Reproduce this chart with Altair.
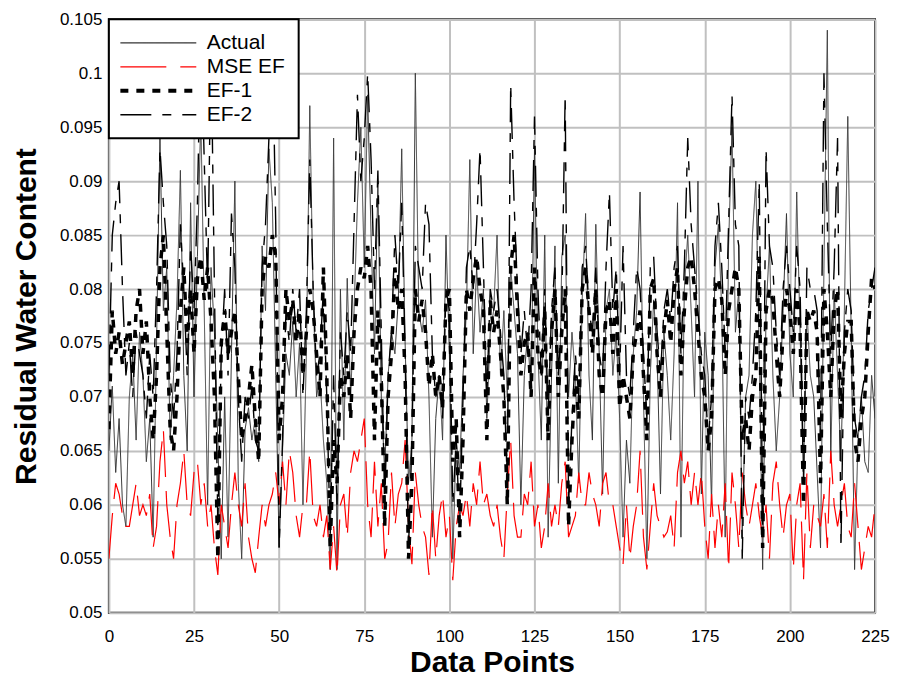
import altair as alt
import pandas as pd

series_names = ["Actual", "MSE EF", "EF-1", "EF-2"]
series_colors = ["#333333", "#ff0000", "#000000", "#000000"]
series_widths = [1.0, 1.2, 3.5, 1.4]
series_dashes = [[1, 0], [46, 14], [8, 8], [31, 11, 9, 11]]
x_ticks = [0, 25, 50, 75, 100, 125, 150, 175, 200, 225]
y_ticks = [0.05, 0.055, 0.06, 0.065, 0.07, 0.075, 0.08, 0.085, 0.09, 0.095, 0.1, 0.105]

actual = [
    0.065, 0.071, 0.063, 0.068, 0.060, 0.058, 0.070, 0.074, 0.066, 0.076,
    0.072, 0.064, 0.068, 0.057, 0.075, 0.094, 0.078, 0.082, 0.066, 0.072,
    0.079, 0.091, 0.072, 0.065, 0.088, 0.070, 0.083, 0.096, 0.078, 0.060,
    0.082, 0.076, 0.066, 0.055, 0.070, 0.057, 0.074, 0.090, 0.062, 0.055,
    0.067, 0.069, 0.066, 0.068, 0.064, 0.084, 0.078, 0.093, 0.088, 0.072,
    0.056, 0.065, 0.074, 0.072, 0.077, 0.070, 0.075, 0.060, 0.074, 0.097,
    0.079, 0.070, 0.072, 0.066, 0.062, 0.054, 0.094, 0.054, 0.080, 0.066,
    0.081, 0.070, 0.078, 0.088, 0.095, 0.082, 0.098, 0.085, 0.074, 0.090,
    0.070, 0.063, 0.072, 0.076, 0.074, 0.079, 0.093, 0.075, 0.062, 0.066,
    0.100, 0.078, 0.076, 0.079, 0.070, 0.057, 0.068, 0.072, 0.066, 0.085,
    0.074, 0.055, 0.066, 0.063, 0.072, 0.078, 0.092, 0.074, 0.082, 0.076,
    0.080, 0.068, 0.076, 0.078, 0.085, 0.072, 0.078, 0.070, 0.082, 0.078,
    0.074, 0.060, 0.072, 0.076, 0.070, 0.093, 0.074, 0.066, 0.085, 0.057,
    0.072, 0.084, 0.062, 0.083, 0.085, 0.070, 0.076, 0.072, 0.062, 0.079,
    0.087, 0.072, 0.066, 0.086, 0.074, 0.061, 0.078, 0.080, 0.072, 0.076,
    0.068, 0.057, 0.066, 0.062, 0.074, 0.078, 0.089, 0.070, 0.055, 0.072,
    0.079, 0.074, 0.061, 0.076, 0.072, 0.066, 0.074, 0.088, 0.057, 0.080,
    0.085, 0.078, 0.070, 0.090, 0.061, 0.076, 0.072, 0.060, 0.082, 0.086,
    0.078, 0.057, 0.084, 0.095, 0.076, 0.080, 0.057, 0.070, 0.072, 0.085,
    0.090, 0.074, 0.054, 0.078, 0.084, 0.072, 0.065, 0.070, 0.078, 0.087,
    0.074, 0.070, 0.089, 0.076, 0.062, 0.078, 0.072, 0.070, 0.063, 0.056,
    0.082, 0.104, 0.064, 0.080, 0.072, 0.064, 0.078, 0.096, 0.076, 0.054,
    0.066, 0.070, 0.064, 0.063, 0.072, 0.068,
]

mse_ef = [
    0.055, 0.059, 0.062, 0.061, 0.059, 0.058, 0.058, 0.060, 0.062, 0.059,
    0.060, 0.059, 0.061, 0.056, 0.058, 0.064, 0.067, 0.060, 0.057, 0.055,
    0.060, 0.062, 0.065, 0.060, 0.059, 0.063, 0.064, 0.060, 0.062, 0.058,
    0.060, 0.056, 0.0535, 0.060, 0.058, 0.056, 0.060, 0.063, 0.060, 0.058,
    0.062, 0.057, 0.055, 0.0537, 0.057, 0.060, 0.058, 0.060, 0.061, 0.063,
    0.060, 0.064, 0.060, 0.065, 0.063, 0.059, 0.057, 0.060, 0.060, 0.065,
    0.059, 0.058, 0.060, 0.057, 0.059, 0.054, 0.058, 0.0535, 0.060, 0.061,
    0.057, 0.063, 0.065, 0.064, 0.066, 0.068, 0.060, 0.057, 0.064, 0.058,
    0.062, 0.055, 0.0565, 0.063, 0.058, 0.061, 0.062, 0.066, 0.058, 0.0545,
    0.063, 0.060, 0.058, 0.057, 0.0535, 0.060, 0.055, 0.059, 0.061, 0.057,
    0.059, 0.053, 0.058, 0.060, 0.059, 0.061, 0.058, 0.062, 0.060, 0.064,
    0.060, 0.061, 0.059, 0.058, 0.060, 0.057, 0.055, 0.061, 0.066, 0.059,
    0.057, 0.057, 0.061, 0.060, 0.064, 0.058, 0.060, 0.056, 0.058, 0.062,
    0.058, 0.060, 0.058, 0.062, 0.064, 0.057, 0.058, 0.059, 0.063, 0.060,
    0.060, 0.063, 0.061, 0.060, 0.058, 0.062, 0.063, 0.060, 0.060, 0.058,
    0.056, 0.0545, 0.060, 0.055, 0.058, 0.060, 0.065, 0.057, 0.054, 0.058,
    0.062, 0.059, 0.058, 0.057, 0.0575, 0.059, 0.056, 0.063, 0.065, 0.062,
    0.064, 0.060, 0.063, 0.060, 0.063, 0.058, 0.055, 0.061, 0.056, 0.060,
    0.057, 0.062, 0.054, 0.063, 0.060, 0.056, 0.063, 0.060, 0.058, 0.060,
    0.062, 0.059, 0.057, 0.060, 0.055, 0.062, 0.064, 0.060, 0.057, 0.060,
    0.061, 0.054, 0.060, 0.062, 0.053, 0.063, 0.056, 0.060, 0.059, 0.058,
    0.061, 0.056, 0.065, 0.060, 0.058, 0.060, 0.062, 0.058, 0.057, 0.062,
    0.058, 0.054, 0.056, 0.058, 0.057, 0.060,
]

ef1 = [
    0.067, 0.078, 0.074, 0.076, 0.073, 0.075, 0.077, 0.072, 0.078, 0.080,
    0.074, 0.077, 0.070, 0.066, 0.072, 0.082, 0.085, 0.076, 0.067, 0.065,
    0.070, 0.078, 0.082, 0.075, 0.080, 0.074, 0.081, 0.083, 0.079, 0.082,
    0.077, 0.070, 0.055, 0.075, 0.078, 0.074, 0.076, 0.078, 0.072, 0.066,
    0.068, 0.070, 0.073, 0.068, 0.064, 0.080, 0.083, 0.082, 0.085, 0.083,
    0.066, 0.070, 0.080, 0.077, 0.079, 0.075, 0.078, 0.072, 0.076, 0.080,
    0.078, 0.074, 0.070, 0.082, 0.072, 0.056, 0.066, 0.062, 0.072, 0.070,
    0.074, 0.068, 0.076, 0.080, 0.082, 0.081, 0.084, 0.080, 0.066, 0.078,
    0.072, 0.058, 0.070, 0.074, 0.082, 0.078, 0.080, 0.072, 0.055, 0.062,
    0.080, 0.077, 0.079, 0.076, 0.071, 0.074, 0.070, 0.072, 0.069, 0.079,
    0.080, 0.064, 0.068, 0.057, 0.066, 0.080, 0.078, 0.081, 0.083, 0.080,
    0.078, 0.066, 0.079, 0.076, 0.078, 0.074, 0.070, 0.060, 0.082, 0.085,
    0.078, 0.072, 0.075, 0.076, 0.070, 0.082, 0.074, 0.072, 0.078, 0.066,
    0.076, 0.080, 0.070, 0.076, 0.080, 0.058, 0.066, 0.072, 0.068, 0.080,
    0.082, 0.078, 0.074, 0.080, 0.072, 0.070, 0.078, 0.079, 0.074, 0.080,
    0.069, 0.072, 0.070, 0.068, 0.074, 0.076, 0.078, 0.072, 0.066, 0.080,
    0.081, 0.074, 0.070, 0.076, 0.079, 0.075, 0.080, 0.082, 0.072, 0.078,
    0.082, 0.083, 0.080, 0.076, 0.072, 0.070, 0.065, 0.068, 0.080, 0.081,
    0.079, 0.072, 0.078, 0.080, 0.082, 0.080, 0.066, 0.068, 0.065, 0.070,
    0.072, 0.083, 0.056, 0.078, 0.080, 0.079, 0.074, 0.070, 0.076, 0.080,
    0.078, 0.074, 0.080, 0.076, 0.060, 0.078, 0.077, 0.078, 0.076, 0.062,
    0.080, 0.076, 0.070, 0.078, 0.080, 0.068, 0.074, 0.077, 0.077, 0.066,
    0.064, 0.068, 0.070, 0.076, 0.081, 0.080,
]

ef2 = [
    0.072, 0.085, 0.088, 0.090, 0.080, 0.072, 0.075, 0.070, 0.076, 0.074,
    0.072, 0.068, 0.074, 0.070, 0.080, 0.093, 0.088, 0.084, 0.072, 0.068,
    0.074, 0.086, 0.080, 0.072, 0.084, 0.078, 0.088, 0.104, 0.092, 0.080,
    0.103, 0.080, 0.058, 0.074, 0.080, 0.072, 0.087, 0.082, 0.070, 0.064,
    0.070, 0.068, 0.071, 0.066, 0.065, 0.082, 0.086, 0.094, 0.104, 0.086,
    0.056, 0.066, 0.078, 0.075, 0.080, 0.076, 0.080, 0.070, 0.078, 0.092,
    0.080, 0.072, 0.074, 0.080, 0.070, 0.057, 0.072, 0.060, 0.076, 0.072,
    0.078, 0.074, 0.086, 0.098, 0.090, 0.094, 0.100, 0.092, 0.080, 0.091,
    0.076, 0.060, 0.072, 0.076, 0.085, 0.080, 0.088, 0.074, 0.056, 0.066,
    0.084, 0.082, 0.080, 0.088, 0.086, 0.074, 0.070, 0.072, 0.068, 0.080,
    0.078, 0.060, 0.066, 0.058, 0.070, 0.082, 0.084, 0.080, 0.086, 0.093,
    0.082, 0.070, 0.080, 0.078, 0.080, 0.076, 0.072, 0.062, 0.099, 0.088,
    0.080, 0.074, 0.078, 0.074, 0.080, 0.096, 0.080, 0.072, 0.080, 0.068,
    0.078, 0.082, 0.072, 0.078, 0.098, 0.060, 0.068, 0.074, 0.070, 0.082,
    0.084, 0.078, 0.076, 0.082, 0.074, 0.072, 0.082, 0.089, 0.078, 0.082,
    0.072, 0.084, 0.072, 0.070, 0.076, 0.082, 0.080, 0.074, 0.068, 0.082,
    0.083, 0.076, 0.072, 0.078, 0.080, 0.077, 0.082, 0.084, 0.074, 0.082,
    0.094, 0.086, 0.082, 0.078, 0.074, 0.072, 0.066, 0.070, 0.084, 0.088,
    0.082, 0.074, 0.086, 0.098, 0.086, 0.084, 0.055, 0.070, 0.068, 0.072,
    0.078, 0.090, 0.058, 0.093, 0.084, 0.082, 0.076, 0.072, 0.080, 0.084,
    0.080, 0.076, 0.084, 0.080, 0.062, 0.082, 0.080, 0.080, 0.078, 0.066,
    0.100, 0.086, 0.074, 0.082, 0.094, 0.056, 0.076, 0.080, 0.078, 0.068,
    0.066, 0.070, 0.072, 0.078, 0.080, 0.082,
]

series_values = [actual, mse_ef, ef1, ef2]
rows = []
for name, vals, w in zip(series_names, series_values, series_widths):
    for i, v in enumerate(vals):
        rows.append({"point": i, "value": v, "series": name, "sw": w})
df = pd.DataFrame(rows)

FONT = "Liberation Sans"

legend_common = dict(
    title=None,
    orient="top-left",
    offset=0,
    symbolStrokeWidth=alt.ExprRef(
        expr="datum.value === 'EF-1' ? 4 : (datum.value === 'Actual' ? 1.2 : 1.3)"),
)

chart = alt.Chart(df).mark_line(clip=True, strokeCap="butt", strokeJoin="miter").encode(
    x=alt.X("point:Q",
            scale=alt.Scale(domain=[0, 225], nice=False),
            axis=alt.Axis(values=x_ticks, title="Data Points", format="d")),
    y=alt.Y("value:Q",
            scale=alt.Scale(domain=[0.05, 0.105], nice=False, zero=False),
            axis=alt.Axis(values=y_ticks, title="Residual Water Content", format=".3~f")),
    color=alt.Color("series:N",
                    scale=alt.Scale(domain=series_names, range=series_colors),
                    legend=alt.Legend(**legend_common)),
    strokeDash=alt.StrokeDash("series:N",
                              scale=alt.Scale(domain=series_names, range=series_dashes),
                              legend=alt.Legend(**legend_common)),
    strokeWidth=alt.StrokeWidth("sw:Q", scale=None, legend=None),
    detail="series:N",
    order=alt.Order("point:Q"),
).properties(
    width=767,
    height=594,
    padding={"left": 3, "top": 2, "right": 0, "bottom": 4},
).configure_view(
    stroke="black",
    strokeWidth=2,
).configure_axis(
    grid=True,
    gridColor="#c0c0c0",
    gridWidth=2,
    domain=False,
    ticks=False,
    labelFlush=False,
    labelFont=FONT,
    labelFontSize=17,
    labelColor="black",
    titleFont=FONT,
    titleFontSize=30,
    titleFontWeight="bold",
    titleColor="black",
).configure_axisY(
    labelPadding=7,
    titlePadding=18,
).configure_axisX(
    labelPadding=16,
    titlePadding=3,
).configure_legend(
    labelFont=FONT,
    labelFontSize=21,
    labelColor="black",
    symbolType="M-1.2,0H6.4",
    symbolSize=400,
    labelOffset=64,
    rowPadding=2,
    padding=13,
    strokeColor="black",
    strokeWidth=2,
    fillColor="white",
    cornerRadius=0,
)

chart.save("out.html", embed_options={"renderer": "svg", "actions": False})
